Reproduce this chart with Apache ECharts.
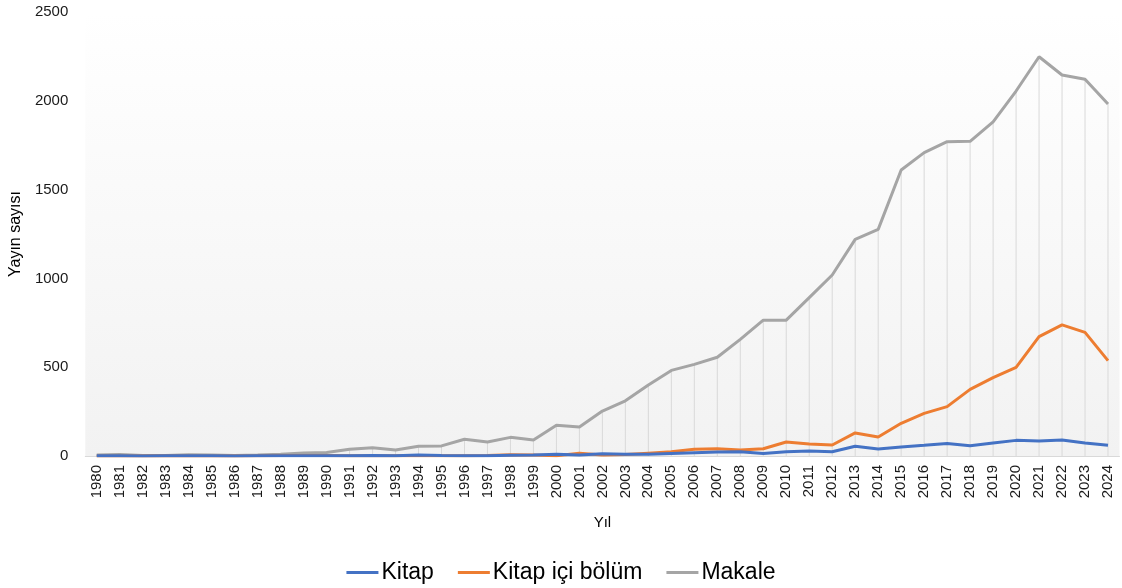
<!DOCTYPE html>
<html>
<head>
<meta charset="utf-8">
<script src="https://cdn.jsdelivr.net/npm/echarts@6/dist/echarts.min.js"></script>
<style>
  * { margin: 0; padding: 0; }
  html, body { background: #fff; }
</style>
</head>
<body>
<div id="chart" style="width: 1122px;height: 588px;"></div>
<script>
// yillar
var years = [];
for (var y = 1980; y <= 2024; y++) years.push(String(y));

var kitap = [1, 1, 0, 1, 2, 1, 0, 1, 2, 2, 2, 1, 3, 2, 5, 3, 2, 2, 4, 5,
  10, 5, 13, 10, 10, 14, 18, 22, 24, 14, 24, 28, 24, 55, 39, 51, 60, 71, 58, 73,
  88, 84, 90, 73, 60];
var kitapIci = [0, 0, 0, 1, 0, 0, 0, 1, 3, 3, 3, 1, 2, 2, 3, 2, 2, 3, 7, 5,
  2, 15, 5, 8, 16, 24, 38, 41, 34, 41, 79, 68, 62, 130, 107, 184, 240, 278, 375, 441,
  499, 672, 738, 696, 537];
var makale = [5, 8, 3, 3, 7, 6, 3, 6, 10, 17, 20, 38, 47, 34, 55, 57, 94, 79, 105, 90,
  173, 163, 253, 311, 400, 482, 516, 556, 657, 765, 765, 892, 1019, 1220, 1276, 1610, 1708, 1770, 1772, 1881,
  2055, 2248, 2145, 2121, 1982];

var yTicks = [0, 500, 1000, 1500, 2000, 2500];
var seriesNames = ['Kitap', 'Kitap içi bölüm', 'Makale'];
var colors = ['#4472C4', '#ED7D31', '#A5A5A5'];

var font = 'Liberation Sans';
var chart = echarts.init(document.getElementById('chart'));
chart.setOption({
  animation: false,
  textStyle: { fontFamily: font },
  grid: {
    left: 83.5,
    right: 2.5,
    top: 12,
    bottom: 132,
    show: true,
    borderWidth: 0,
    backgroundColor: {
      type: 'linear', x: 0, y: 0, x2: 0, y2: 1,
      colorStops: [{ offset: 0, color: '#ffffff' }, { offset: 1, color: '#f2f2f2' }]
    }
  },
  legend: {
    data: seriesNames,
    bottom: -1,
    left: 'center',
    itemWidth: 32,
    itemHeight: 3,
    itemGap: 24,
    icon: 'rect',
    textStyle: { fontSize: 23, color: '#000', fontFamily: font, padding: [0, 0, 0, -2] }
  },
  xAxis: {
    type: 'category',
    data: years,
    boundaryGap: true,
    name: 'Yıl',
    nameLocation: 'middle',
    nameGap: 59,
    nameTextStyle: { fontSize: 15, color: '#000' },
    axisLine: { lineStyle: { color: '#d9d9d9', width: 1 } },
    axisTick: { show: false },
    axisLabel: { rotate: 90, fontSize: 15, color: '#1a1a1a', margin: 9, interval: 0 },
    splitLine: { show: false }
  },
  yAxis: {
    type: 'value',
    min: yTicks[0],
    max: yTicks[yTicks.length - 1],
    interval: 500,
    name: 'Yayın sayısı',
    nameLocation: 'middle',
    nameGap: 60,
    nameTextStyle: { fontSize: 16, color: '#000' },
    axisLine: { show: false },
    axisTick: { show: false },
    axisLabel: { fontSize: 15, color: '#1a1a1a', margin: 17, formatter: function (v) { return String(v); } },
    splitLine: { show: false }
  },
  series: [
    {
      // dikey cizgiler (drop lines)
      name: 'drop',
      type: 'bar',
      data: makale,
      barWidth: 1,
      silent: true,
      itemStyle: { color: '#d9d9d9' },
      z: 1
    },
    {
      name: seriesNames[0], type: 'line', data: kitap, symbol: 'none',
      lineStyle: { width: 3, color: colors[0] }, itemStyle: { color: colors[0] }, z: 5
    },
    {
      name: seriesNames[1], type: 'line', data: kitapIci, symbol: 'none',
      lineStyle: { width: 3, color: colors[1] }, itemStyle: { color: colors[1] }, z: 4
    },
    {
      name: seriesNames[2], type: 'line', data: makale, symbol: 'none',
      lineStyle: { width: 3, color: colors[2] }, itemStyle: { color: colors[2] }, z: 3
    }
  ]
});
</script>
</body>
</html>
